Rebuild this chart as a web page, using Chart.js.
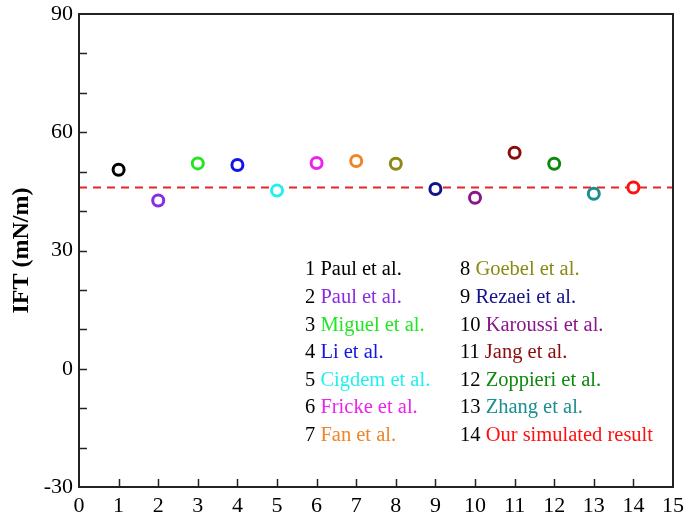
<!DOCTYPE html>
<html>
<head>
<meta charset="utf-8">
<script src="https://cdn.jsdelivr.net/npm/chart.js@4/dist/chart.umd.min.js"></script>
<style>
  html, body { margin: 0; padding: 0; background: #ffffff; }
  #wrap { width: 685px; height: 519px; }
</style>
</head>
<body>
<div id="wrap"><canvas id="c" width="685" height="519"></canvas></div>
<script>
// Interfacial tension (IFT) reported by each study, in mN/m
const sourceIndex = [1, 2, 3, 4, 5, 6, 7, 8, 9, 10, 11, 12, 13, 14];
const sourceNames = [
  'Paul et al.', 'Paul et al.', 'Miguel et al.', 'Li et al.', 'Cigdem et al.',
  'Fricke et al.', 'Fan et al.', 'Goebel et al.', 'Rezaei et al.', 'Karoussi et al.',
  'Jang et al.', 'Zoppieri et al.', 'Zhang et al.', 'Our simulated result'
];
const iftValues = [50.5, 42.7, 52.1, 51.7, 45.2, 52.2, 52.7, 52.0, 45.6, 43.4, 54.8, 52.0, 44.4, 46.0];
const sourceColors = [
  '#000000', '#8a2be2', '#22e622', '#1414e6', '#22f0f0', '#ee22ee', '#f08428',
  '#8a8a14', '#12128c', '#8a168a', '#8b0a0a', '#0c8a0c', '#1a8f8f', '#ff1010'
];
// Reference level drawn across the plot (simulated value)
const referenceIFT = 46.0;
const xRange = [0, 15];
const yRange = [-30, 90];

const SERIF = '"Liberation Serif", "Times New Roman", serif';

const datasets = sourceIndex.map((n, i) => ({
  label: n + ' ' + sourceNames[i],
  data: [{ x: n, y: iftValues[i] }],
  borderColor: sourceColors[i],
  backgroundColor: '#ffffff',
  pointRadius: 5.5,
  pointBorderWidth: 3,
  pointHoverRadius: 5.5
}));
datasets.push({
  label: 'reference',
  data: [{ x: xRange[0], y: referenceIFT }, { x: xRange[1], y: referenceIFT }],
  showLine: true,
  borderColor: '#e02828',
  borderWidth: 2,
  borderDash: [8, 6],
  pointRadius: 0,
  pointHoverRadius: 0
});

// Box frame with inward-pointing tick marks
const framePlugin = {
  id: 'frame',
  afterDatasetsDraw(chart) {
    const { ctx, chartArea: a, scales } = chart;
    ctx.save();
    ctx.strokeStyle = '#222222';
    ctx.lineWidth = 2;
    ctx.strokeRect(a.left, a.top, a.right - a.left, a.bottom - a.top);
    ctx.lineWidth = 1.5;
    const len = 8;
    ctx.beginPath();
    scales.x.ticks.forEach(t => {
      if (t.value <= xRange[0] || t.value >= xRange[1]) return;
      const px = Math.round(scales.x.getPixelForValue(t.value)) + 0.5;
      ctx.moveTo(px, a.bottom);
      ctx.lineTo(px, a.bottom - len);
    });
    scales.y.ticks.forEach(t => {
      if (t.value <= yRange[0] || t.value >= yRange[1]) return;
      const py = Math.round(scales.y.getPixelForValue(t.value)) + 0.5;
      ctx.moveTo(a.left, py);
      ctx.lineTo(a.left + len, py);
    });
    ctx.stroke();
    ctx.restore();
  }
};

// Two-column numbered key: number in black, source name in its colour
const keyPlugin = {
  id: 'key',
  afterDraw(chart, args, opts) {
    const { ctx } = chart;
    ctx.save();
    ctx.font = opts.fontSize + 'px ' + SERIF;
    ctx.textBaseline = 'middle';
    ctx.textAlign = 'left';
    sourceIndex.forEach((n, i) => {
      const col = i < opts.perColumn ? 0 : 1;
      const row = i % opts.perColumn;
      const x = opts.columns[col];
      const y = opts.top + row * opts.rowGap;
      const num = n + ' ';
      ctx.fillStyle = '#000000';
      ctx.fillText(num, x, y);
      ctx.fillStyle = sourceColors[i];
      ctx.fillText(sourceNames[i], x + ctx.measureText(num).width, y);
    });
    ctx.restore();
  }
};

new Chart(document.getElementById('c'), {
  type: 'scatter',
  data: { datasets },
  plugins: [framePlugin, keyPlugin],
  options: {
    responsive: false,
    animation: false,
    layout: { padding: { left: 0, right: 12, top: 14, bottom: 0 } },
    plugins: {
      legend: { display: false },
      tooltip: { enabled: false },
      key: { columns: [305, 460], top: 270, rowGap: 27.6, perColumn: 7, fontSize: 20.5 }
    },
    scales: {
      x: {
        type: 'linear',
        min: xRange[0],
        max: xRange[1],
        afterFit(s) { s.height = 32; s.paddingLeft = 0; s.paddingRight = 0; },
        grid: { display: false, drawTicks: false },
        border: { display: false },
        ticks: {
          stepSize: 1,
          autoSkip: false,
          maxRotation: 0,
          padding: 6,
          color: '#000000',
          font: { family: SERIF, size: 22 }
        }
      },
      y: {
        type: 'linear',
        min: yRange[0],
        max: yRange[1],
        afterFit(s) { s.width = 79; s.paddingTop = 0; s.paddingBottom = 0; },
        grid: { display: false, drawTicks: false },
        border: { display: false },
        title: {
          display: true,
          text: 'IFT (mN/m)',
          color: '#000000',
          padding: { top: 7, bottom: 0 },
          font: { family: SERIF, size: 24, weight: 'bold' }
        },
        ticks: {
          stepSize: 10,
          autoSkip: false,
          padding: 6,
          color: '#000000',
          font: { family: SERIF, size: 22 },
          callback: v => (v % 30 === 0 ? String(v) : '')
        }
      }
    }
  }
});
</script>
</body>
</html>
